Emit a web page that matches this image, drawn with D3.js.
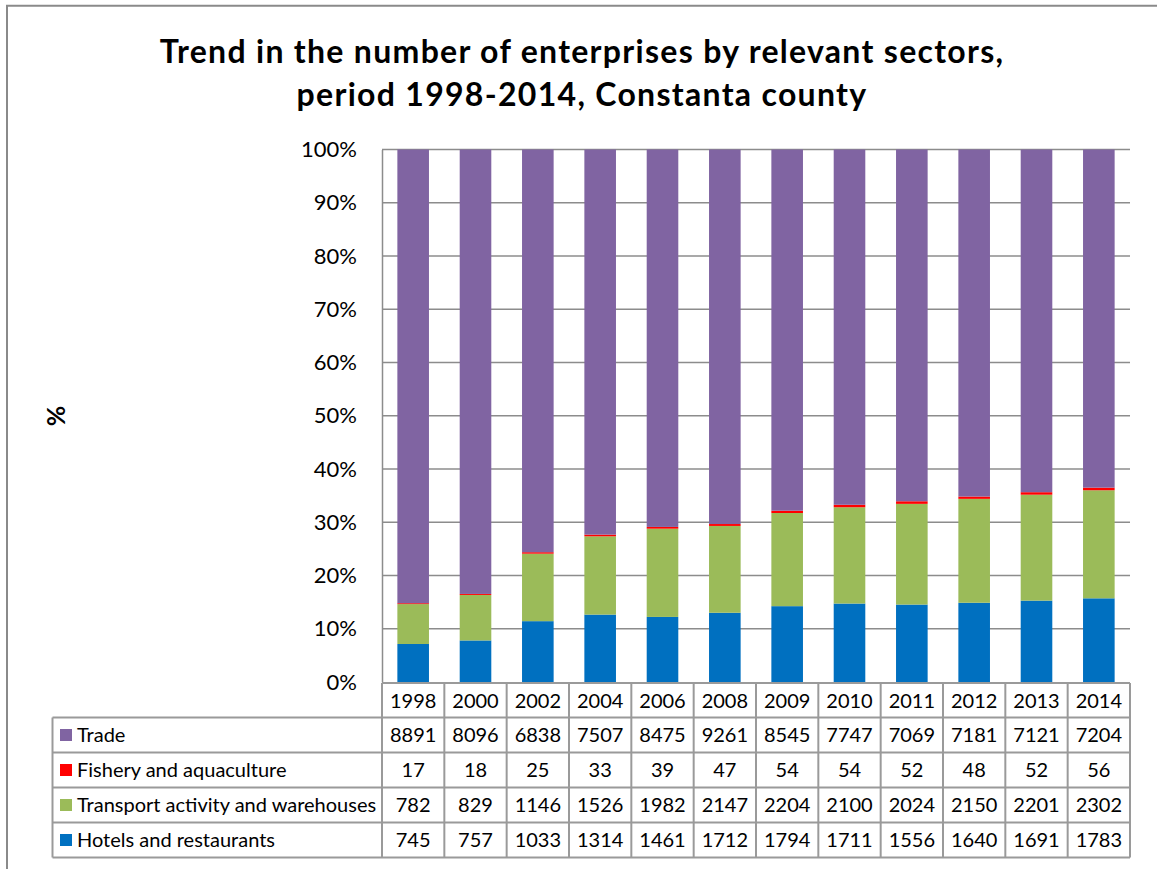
<!DOCTYPE html>
<html>
<head>
<meta charset="utf-8">
<script src="https://cdn.jsdelivr.net/npm/d3@7"></script>
<style>
  html, body { margin: 0; padding: 0; background: #fff; }
  svg { display: block; font-family: Lato, "Open Sans", sans-serif; }
</style>
</head>
<body>
<svg id="chart" width="1157" height="869"></svg>
<script>
// Years shown on the category axis
const years = ["1998", "2000", "2002", "2004", "2006", "2008", "2009", "2010", "2011", "2012", "2013", "2014"];

// Number of enterprises per sector
const hotels    = [745, 757, 1033, 1314, 1461, 1712, 1794, 1711, 1556, 1640, 1691, 1783];
const transport = [782, 829, 1146, 1526, 1982, 2147, 2204, 2100, 2024, 2150, 2201, 2302];
const fishery   = [17, 18, 25, 33, 39, 47, 54, 54, 52, 48, 52, 56];
const trade     = [8891, 8096, 6838, 7507, 8475, 9261, 8545, 7747, 7069, 7181, 7121, 7204];

// Series names, stacked from the bottom up
const seriesNames = ["Hotels and restaurants", "Transport activity and warehouses", "Fishery and aquaculture", "Trade"];
const seriesColors = ["#0070C0", "#9BBB59", "#FF0000", "#8064A2"];

// Percentage axis ticks
const yTicks = [0, 0.1, 0.2, 0.3, 0.4, 0.5, 0.6, 0.7, 0.8, 0.9, 1.0];

const titleLines = ["Trend in the number of enterprises by relevant sectors,", "period 1998-2014, Constanta county"];

const svg = d3.select("#chart");
const W = 1157, H = 869;

const plot = { left: 382, right: 1130, top: 149.5, bottom: 682 };
const gridColor = "#8c8c8c";
const tableColor = "#9a9a9a";
const tableFont = 20;

// Outer frame (top and left edges)
svg.append("path")
  .attr("d", `M7,${H} L7,5.8 L${W},5.8`)
  .attr("fill", "none")
  .attr("stroke", "#8a8a8a")
  .attr("stroke-width", 2);

// Title
const title = svg.append("text")
  .attr("text-anchor", "middle")
  .attr("font-weight", 700)
  .attr("font-size", 32)
  .attr("letter-spacing", 1.3)
  .attr("fill", "#000");
titleLines.forEach((t, i) => {
  title.append("tspan").attr("x", 582).attr("y", 63 + i * 43).text(t);
});

// Scales
const x = d3.scaleBand().domain(years).range([plot.left, plot.right]).paddingInner(0).paddingOuter(0);
const y = d3.scaleLinear().domain([0, 1]).range([plot.bottom, plot.top]);

// Gridlines
svg.append("g")
  .selectAll("line")
  .data(yTicks.filter(d => d > 0))
  .join("line")
  .attr("x1", plot.left).attr("x2", plot.right)
  .attr("y1", d => y(d)).attr("y2", d => y(d))
  .attr("stroke", gridColor)
  .attr("stroke-width", 1.5);

// Y axis via d3.axisLeft, restyled
const yAxis = svg.append("g")
  .attr("transform", `translate(${plot.left},0)`)
  .call(d3.axisLeft(y).tickValues(yTicks).tickFormat(d3.format(".0%")).tickSize(0).tickPadding(25));
yAxis.select(".domain").attr("stroke", gridColor).attr("stroke-width", 1.5);
yAxis.selectAll("text")
  .attr("font-family", "Lato, sans-serif")
  .attr("font-size", 22)
  .attr("fill", "#000");

// Axis title
svg.append("text")
  .attr("transform", "translate(65,416) rotate(-90)")
  .attr("text-anchor", "middle")
  .attr("font-weight", 700)
  .attr("font-size", 25)
  .text("%");

// Stacked percentages
const rows = years.map((yr, i) => ({
  year: yr,
  "Hotels and restaurants": hotels[i],
  "Transport activity and warehouses": transport[i],
  "Fishery and aquaculture": fishery[i],
  "Trade": trade[i]
}));
const stack = d3.stack().keys(seriesNames).offset(d3.stackOffsetExpand);
const layers = stack(rows);

const barW = x.bandwidth() * 0.507;
svg.append("g")
  .selectAll("g")
  .data(layers)
  .join("g")
  .attr("fill", (d, i) => seriesColors[i])
  .selectAll("rect")
  .data(d => d)
  .join("rect")
  .attr("x", d => x(d.data.year) + (x.bandwidth() - barW) / 2)
  .attr("width", barW)
  .attr("y", d => y(d[1]))
  .attr("height", d => Math.max(y(d[0]) - y(d[1]), 0));

// Data table below the plot
const headerTop = 683, rowH = 35;
const tableLeft = 52.5;
const tableRows = [
  { name: "Trade", values: trade, color: seriesColors[3] },
  { name: "Fishery and aquaculture", values: fishery, color: seriesColors[2] },
  { name: "Transport activity and warehouses", values: transport, color: seriesColors[1] },
  { name: "Hotels and restaurants", values: hotels, color: seriesColors[0] }
];
const tableTop = headerTop + 34.5;
const tableBottom = tableTop + rowH * tableRows.length;

const tg = svg.append("g");
// Horizontal lines
tg.append("line")
  .attr("x1", plot.left).attr("x2", plot.right)
  .attr("y1", headerTop).attr("y2", headerTop)
  .attr("stroke", tableColor).attr("stroke-width", 2);
d3.range(tableRows.length + 1).forEach(r => {
  tg.append("line")
    .attr("x1", tableLeft).attr("x2", plot.right)
    .attr("y1", tableTop + r * rowH).attr("y2", tableTop + r * rowH)
    .attr("stroke", tableColor).attr("stroke-width", 2);
});
// Vertical lines
tg.append("line")
  .attr("x1", tableLeft).attr("x2", tableLeft)
  .attr("y1", tableTop).attr("y2", tableBottom)
  .attr("stroke", tableColor).attr("stroke-width", 2);
years.forEach(yr => {
  tg.append("line")
    .attr("x1", x(yr)).attr("x2", x(yr))
    .attr("y1", headerTop).attr("y2", tableBottom)
    .attr("stroke", tableColor).attr("stroke-width", 2);
});
tg.append("line")
  .attr("x1", plot.right).attr("x2", plot.right)
  .attr("y1", headerTop).attr("y2", tableBottom)
  .attr("stroke", tableColor).attr("stroke-width", 2);

// Header: years
tg.selectAll("text.year")
  .data(years)
  .join("text")
  .attr("class", "year")
  .attr("x", d => x(d) + x.bandwidth() / 2)
  .attr("y", headerTop + 17.5 + 7)
  .attr("text-anchor", "middle")
  .attr("font-size", tableFont)
  .text(d => d);

// Body rows
tableRows.forEach((row, r) => {
  const cy = tableTop + r * rowH + rowH / 2;
  tg.append("rect")
    .attr("x", 60).attr("y", cy - 6)
    .attr("width", 12).attr("height", 12)
    .attr("fill", row.color);
  tg.append("text")
    .attr("x", 77)
    .attr("y", cy + 7)
    .attr("font-size", tableFont)
    .text(row.name);
  tg.selectAll(null)
    .data(row.values)
    .join("text")
    .attr("x", (d, i) => x(years[i]) + x.bandwidth() / 2)
    .attr("y", cy + 7)
    .attr("text-anchor", "middle")
    .attr("font-size", tableFont)
    .text(d => d);
});
</script>
</body>
</html>
